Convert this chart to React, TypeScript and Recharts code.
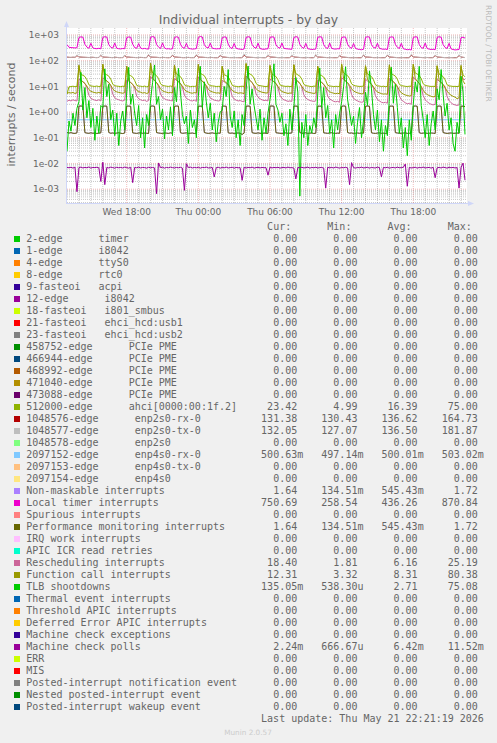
import React from 'react';
import { LineChart, Line, XAxis, YAxis, CartesianGrid } from 'recharts';

// time: hours since Wed 00:00, one sample every 10 minutes starting Wed 13:00
const START_HOUR = 13;
const STEP_HOURS = 1 / 6;
const X_DOMAIN = [13, 46.5];
const X_TICKS = [18, 24, 30, 36, 42];
const X_TICK_LABELS = ['Wed 18:00', 'Thu 00:00', 'Thu 06:00', 'Thu 12:00', 'Thu 18:00'];
const Y_DOMAIN = [2.9e-4, 1860];
const Y_TICKS = [1e-3, 1e-2, 1e-1, 1, 10, 100, 1000];

const LOCAL_TIMER = [
  420, 330, 322, 318, 312, 316,
  792, 842, 818, 430, 338, 302, 472, 312, 296, 291, 302, 288,
  801, 851, 829, 420, 331, 306, 481, 301, 291, 286, 296, 291,
  781, 832, 815, 440, 322, 301, 462, 306, 289, 299, 286, 281,
  811, 862, 826, 425, 336, 296, 489, 309, 286, 291, 281, 289,
  791, 846, 811, 435, 326, 301, 471, 299, 291, 281, 286, 294,
  799, 870, 831, 418, 329, 311, 479, 304, 294, 286, 291, 289,
  779, 836, 821, 440, 321, 296, 466, 301, 286, 281, 271, 284,
  796, 851, 816, 425, 331, 301, 476, 296, 281, 276, 286, 289,
  801, 841, 826, 415, 326, 306, 481, 301, 291, 286, 281, 276,
  791, 856, 821, 430, 331, 301, 471, 291, 281, 271, 276, 281,
  806, 846, 831, 420, 321, 296, 486, 301, 286, 281, 291, 286,
  786, 836, 816, 435, 331, 301, 466, 296, 281, 271, 266, 276,
  801, 851, 826, 420, 326, 306, 476, 301, 286, 276, 281, 271,
  791, 841, 821, 430, 331, 296, 471, 291, 276, 266, 271, 259,
  796, 846, 831, 425, 321, 301, 481, 296, 281, 271, 276, 266,
  801, 849, 816, 420, 326, 296, 471, 286, 271, 261, 266, 271,
  781, 821, 750.69,
];

const ENP2S0_TX = [
  138, 135, 134, 136, 135, 168,
  141, 138, 136, 135, 134, 133, 134, 135, 133, 132, 134, 171,
  140, 137, 136, 134, 133, 132, 135, 134, 132, 131, 133, 166,
  139, 138, 135, 134, 133, 132, 133, 134, 133, 131, 132, 174,
  140, 137, 136, 135, 133, 132, 134, 133, 132, 130, 133, 169,
  141, 138, 135, 134, 132, 131, 133, 134, 132, 131, 132, 172,
  139, 137, 136, 134, 133, 132, 134, 133, 131, 130, 132, 167,
  140, 138, 135, 133, 132, 131, 133, 132, 131, 129, 131, 181.87,
  139, 137, 135, 134, 133, 131, 132, 133, 131, 130, 132, 170,
  140, 138, 136, 134, 132, 131, 133, 132, 130, 129, 131, 168,
  141, 137, 135, 133, 132, 130, 132, 133, 131, 128, 130, 173,
  139, 138, 136, 134, 133, 131, 133, 132, 130, 129, 131, 166,
  140, 137, 135, 133, 132, 130, 132, 131, 130, 127.07, 130, 171,
  139, 138, 136, 134, 132, 131, 133, 132, 130, 128, 131, 169,
  140, 137, 135, 133, 132, 130, 132, 131, 129, 128, 130, 175,
  141, 138, 136, 134, 133, 131, 132, 133, 130, 129, 131, 167,
  139, 137, 135, 133, 132, 130, 131, 132, 130, 128, 130, 170,
  138, 135, 132.05,
];

const ENP2S0_RX = [
  137, 134, 133, 135, 134, 158,
  140, 137, 135, 134, 133, 132, 133, 134, 132, 131, 133, 161,
  139, 136, 135, 133, 132, 131, 134, 133, 131, 131, 132, 157,
  138, 137, 134, 133, 132, 131, 132, 133, 132, 131, 131, 164.73,
  139, 136, 135, 134, 132, 131, 133, 132, 131, 130.43, 132, 159,
  140, 137, 134, 133, 131, 131, 132, 133, 131, 131, 131, 162,
  138, 136, 135, 133, 132, 131, 133, 132, 131, 130.5, 131, 158,
  139, 137, 134, 132, 131, 131, 132, 131, 131, 130.6, 131, 163,
  138, 136, 134, 133, 132, 131, 131, 132, 131, 130.5, 131, 160,
  139, 137, 135, 133, 131, 131, 132, 131, 130.8, 131, 131, 158,
  140, 136, 134, 132, 131, 130.7, 131, 132, 131, 130.6, 130.9, 163,
  138, 137, 135, 133, 132, 131, 132, 131, 130.8, 131, 131, 157,
  139, 136, 134, 132, 131, 130.6, 131, 131, 130.7, 130.5, 130.8, 161,
  138, 137, 135, 133, 131, 131, 132, 131, 130.6, 131, 131, 159,
  139, 136, 134, 132, 131, 130.5, 131, 131, 130.7, 130.6, 130.9, 164,
  140, 137, 135, 133, 132, 131, 131, 132, 131, 131, 131, 158,
  138, 136, 134, 132, 131, 130.6, 131, 131, 130.5, 131, 130.8, 160,
  137, 134, 131.38,
];

const AHCI = [
  4.99, 9.6, 9.8, 10.1, 9.7, 9.9,
  61, 29, 27, 24, 18, 11.5, 10.4, 10.1, 9.9, 10.3, 9.8, 10.1,
  66, 31, 28, 25, 19, 12, 10.6, 10.2, 10.0, 9.7, 10.1, 9.9,
  58, 28, 26, 23, 17, 11, 10.3, 10.1, 9.8, 10.2, 9.6, 10.0,
  72, 33, 30, 26, 20, 12.5, 10.8, 10.5, 10.1, 9.9, 10.3, 9.8,
  63, 30, 27, 24, 18, 11.5, 10.5, 10.3, 9.7, 10.0, 9.9, 10.2,
  69, 32, 29, 26, 19, 12, 10.7, 10.4, 10.2, 9.8, 10.0, 9.7,
  60, 28, 26, 23, 17, 11, 10.2, 10.0, 9.6, 9.9, 10.1, 9.8,
  75, 34, 30, 27, 21, 13, 11.0, 10.6, 10.3, 10.0, 9.7, 10.1,
  64, 30, 27, 24, 18, 11.5, 10.5, 10.2, 9.9, 10.1, 9.8, 9.9,
  67, 31, 28, 25, 19, 12, 10.6, 10.4, 10.0, 9.7, 10.2, 10.0,
  59, 28, 26, 23, 17, 11, 10.3, 10.1, 9.8, 10.0, 9.9, 9.7,
  70, 33, 29, 26, 20, 12.5, 10.9, 10.5, 10.1, 9.9, 10.0, 10.2,
  62, 30, 27, 24, 18, 11.5, 10.4, 10.3, 9.8, 10.1, 9.7, 9.9,
  65, 31, 28, 25, 19, 12, 10.6, 10.4, 10.0, 9.8, 10.1, 10.0,
  71, 33, 30, 26, 20, 12.5, 10.8, 10.5, 10.1, 9.9, 10.0, 9.8,
  63, 30, 27, 24, 18, 11.5, 10.4, 10.2, 9.9, 10.0, 9.8, 10.1,
  58, 28, 23.42,
];

const FUNCTION_CALL = [
  5.4, 5.7, 5.5, 5.8, 5.3, 5.6,
  68, 18, 15, 13, 10, 7.5, 6.4, 6.0, 5.7, 5.5, 5.8, 5.4,
  74, 20, 16, 14, 11, 8, 6.6, 6.1, 5.8, 5.6, 5.4, 5.7,
  62, 17, 14, 12, 9.5, 7, 6.2, 5.9, 5.5, 5.7, 5.3, 5.6,
  80.38, 21, 17, 14, 11, 8, 6.7, 6.2, 5.9, 5.6, 5.8, 5.5,
  66, 18, 15, 13, 10, 7.5, 6.4, 6.0, 5.6, 5.4, 5.7, 5.5,
  72, 19, 16, 13, 10.5, 7.8, 6.5, 6.1, 5.8, 5.5, 5.6, 5.3,
  60, 16, 14, 12, 9, 7, 6.1, 5.8, 5.4, 5.6, 5.5, 5.2,
  78, 22, 17, 14, 11, 8.2, 6.8, 6.3, 5.9, 5.7, 5.5, 5.6,
  65, 18, 15, 13, 10, 7.4, 6.3, 5.9, 5.6, 5.3, 5.5, 5.4,
  70, 19, 16, 13, 10, 7.6, 6.4, 6.0, 5.7, 5.5, 5.3, 5.5,
  61, 17, 14, 12, 9.5, 7.1, 6.1, 5.7, 5.4, 5.2, 5.4, 5.1,
  75, 20, 16, 14, 11, 8, 6.6, 6.0, 5.6, 5.3, 5.1, 5.2,
  64, 18, 15, 12, 9.5, 7.2, 6.0, 5.6, 5.2, 5.0, 5.1, 4.9,
  69, 19, 15, 13, 10, 7, 5.6, 5.0, 4.6, 4.4, 4.2, 4.3,
  73, 20, 16, 13, 10, 7, 5.5, 4.8, 4.4, 4.1, 3.9, 4.0,
  63, 17, 14, 12, 9, 6.5, 5.2, 4.5, 4.1, 3.8, 3.32, 3.6,
  66, 16, 12.31,
];

const RESCHEDULING = [
  2.6, 2.9, 2.7, 3.0, 2.8, 2.7,
  19, 17, 15, 13, 9, 4.5, 3.4, 3.1, 2.9, 2.8, 3.0, 2.7,
  22, 18, 16, 14, 10, 5, 3.6, 3.2, 3.0, 2.8, 2.7, 2.9,
  18, 16, 14, 12, 8.5, 4.2, 3.3, 3.0, 2.8, 2.9, 2.6, 2.8,
  24, 19, 17, 14, 10, 5, 3.7, 3.3, 3.0, 2.9, 2.8, 2.7,
  20, 17, 15, 13, 9, 4.6, 3.4, 3.1, 2.8, 2.7, 2.9, 2.6,
  23, 18, 16, 14, 10, 4.9, 3.5, 3.2, 2.9, 2.8, 2.7, 2.8,
  17, 15, 13, 11, 8, 4.1, 3.2, 2.9, 2.7, 2.8, 2.6, 2.5,
  25.19, 20, 17, 14, 10, 5.1, 3.8, 3.3, 3.0, 2.8, 2.9, 2.7,
  19, 17, 15, 13, 9, 4.5, 3.4, 3.0, 2.8, 2.6, 2.7, 2.6,
  21, 18, 15, 13, 9.5, 4.7, 3.5, 3.1, 2.8, 2.7, 2.6, 2.7,
  18, 16, 14, 12, 8.5, 4.2, 3.2, 2.9, 2.6, 2.5, 2.6, 2.4,
  22, 18, 16, 13, 9.5, 4.8, 3.4, 3.0, 2.7, 2.5, 2.4, 2.5,
  19, 16, 14, 12, 8.5, 4.3, 3.1, 2.7, 2.4, 2.3, 2.4, 2.2,
  20, 17, 15, 12, 9, 4.2, 3.0, 2.6, 2.3, 2.1, 2.2, 2.0,
  23, 18, 16, 13, 9, 4.3, 3.0, 2.5, 2.2, 2.0, 1.9, 2.0,
  19, 16, 14, 12, 8.5, 4.0, 2.8, 2.3, 2.0, 1.9, 1.81, 1.9,
  22, 19, 18.40,
];

const TLB_SHOOTDOWNS = [
  0.03, 0.45, 0.18, 0.9, 0.3, 1.4,
  2.5, 35, 1.2, 9, 0.6, 2.8, 0.25, 1.4, 0.08, 0.7, 0.15, 1.8,
  1.5, 48, 4, 12, 0.5, 1.2, 0.12, 0.9, 0.05, 0.45, 1.1, 0.2,
  6, 55, 2, 5, 0.9, 0.3, 1.8, 0.1, 0.6, 0.04, 0.8, 0.3,
  3, 14, 68, 2, 4, 0.5, 1.3, 0.09, 0.7, 0.2, 1.6, 0.12,
  9, 2.5, 50, 6, 0.8, 0.35, 0.7, 0.06, 1.2, 0.25, 0.5, 0.1,
  4, 60, 1.5, 15, 2.5, 0.6, 2.2, 0.2, 0.9, 0.07, 0.4, 1.0,
  1.2, 10, 4, 45, 0.7, 0.25, 1.1, 0.1, 0.5, 0.05, 0.8, 0.3,
  7, 62, 2, 8, 1.8, 0.6, 0.2, 1.3, 0.08, 0.6, 0.15, 0.9,
  3, 12, 75.08, 2, 1.2, 0.4, 0.9, 0.12, 0.35, 0.05, 1.3, 0.2,
  1.5, 22, 6, 0.000538, 0.4, 0.1, 0.8, 0.05, 0.3, 0.15, 0.6, 0.25,
  5, 52, 1.5, 9, 0.6, 1.8, 0.15, 0.5, 0.04, 0.8, 0.2, 0.9,
  2.5, 10, 58, 3, 1.0, 0.3, 0.7, 0.06, 0.4, 1.5, 0.1, 0.5,
  6, 1.8, 40, 8, 0.8, 0.2, 1.2, 0.07, 0.5, 0.03, 0.3, 0.12,
  4, 55, 2.2, 12, 1.5, 0.15, 0.6, 0.04, 0.25, 0.02, 0.5, 0.08,
  2, 15, 6, 60, 1.8, 0.5, 0.1, 0.8, 0.05, 0.35, 1.1, 0.2,
  8, 3, 45, 5, 0.7, 2.2, 0.2, 0.6, 0.06, 0.03, 0.4, 0.15,
  25, 6, 0.135,
];

const PERF_MONITORING = [
  0.16, 0.152, 0.158, 0.15, 0.148, 0.155,
  1.70, 1.72, 1.68, 0.158, 0.152, 0.149, 0.156, 0.15, 0.153, 0.147, 0.151, 0.155,
  1.69, 1.71, 1.70, 0.16, 0.15, 0.154, 0.148, 0.152, 0.157, 0.15, 0.146, 0.153,
  1.71, 1.70, 1.69, 0.155, 0.151, 0.148, 0.153, 0.156, 0.149, 0.152, 0.15, 0.147,
  1.70, 1.72, 1.67, 0.159, 0.153, 0.15, 0.147, 0.154, 0.151, 0.148, 0.155, 0.15,
  1.68, 1.71, 1.70, 0.157, 0.149, 0.152, 0.155, 0.148, 0.15, 0.153, 0.147, 0.152,
  1.70, 1.69, 1.71, 0.16, 0.152, 0.148, 0.151, 0.155, 0.149, 0.146, 0.152, 0.15,
  1.72, 1.70, 1.68, 0.156, 0.15, 0.153, 0.147, 0.151, 0.154, 0.149, 0.1345, 0.152,
  1.69, 1.71, 1.70, 0.158, 0.151, 0.149, 0.155, 0.15, 0.147, 0.153, 0.15, 0.148,
  1.70, 1.72, 1.69, 0.157, 0.153, 0.15, 0.148, 0.152, 0.155, 0.149, 0.151, 0.154,
  1.71, 1.70, 1.68, 0.159, 0.15, 0.152, 0.156, 0.148, 0.151, 0.154, 0.147, 0.15,
  1.70, 1.69, 1.71, 0.155, 0.152, 0.149, 0.153, 0.157, 0.15, 0.148, 0.152, 0.149,
  1.68, 1.72, 1.70, 0.16, 0.151, 0.154, 0.147, 0.15, 0.153, 0.149, 0.155, 0.151,
  1.70, 1.71, 1.69, 0.156, 0.15, 0.148, 0.152, 0.155, 0.149, 0.151, 0.147, 0.153,
  1.71, 1.70, 1.70, 0.158, 0.153, 0.15, 0.149, 0.152, 0.156, 0.148, 0.15, 0.152,
  1.69, 1.72, 1.68, 0.157, 0.149, 0.152, 0.155, 0.148, 0.15, 0.153, 0.151, 0.147,
  1.70, 1.71, 1.69, 0.159, 0.152, 0.148, 0.151, 0.154, 0.149, 0.15, 0.153, 0.15,
  1.70, 1.69, 1.64,
];

// identical readings to the performance monitoring counter (see legend)
const NON_MASKABLE = PERF_MONITORING;

const MC_POLLS = [
  0.0070, 0.0068, 0.0071, 0.0066, 0.0072, 0.0008,
  0.0069, 0.0072, 0.0067, 0.0070, 0.0068, 0.0073, 0.0066, 0.0070, 0.0069, 0.0071, 0.0068, 0.0020,
  0.0112, 0.0015, 0.0070, 0.0067, 0.0072, 0.0069, 0.0066, 0.0071, 0.0068, 0.0070, 0.0067, 0.0072,
  0.0069, 0.0066, 0.0071, 0.0018, 0.0070, 0.0068, 0.0072, 0.0067, 0.0070, 0.0069, 0.0066, 0.0071,
  0.0068, 0.0070, 0.0067, 0.00067, 0.0105, 0.0069, 0.0071, 0.0066, 0.0070, 0.0068, 0.0072, 0.0069,
  0.0067, 0.0070, 0.0068, 0.0071, 0.0066, 0.0009, 0.0098, 0.0069, 0.0072, 0.0067, 0.0070, 0.0068,
  0.0071, 0.0066, 0.0070, 0.0069, 0.0072, 0.0067, 0.0068, 0.0070, 0.0030, 0.0069, 0.0071, 0.0066,
  0.0070, 0.0068, 0.0072, 0.0067, 0.0069, 0.0071, 0.0066, 0.0070, 0.0068, 0.0069, 0.0022, 0.0071,
  0.0067, 0.0070, 0.0068, 0.0072, 0.0066, 0.0069, 0.0071, 0.0067, 0.0070, 0.0068, 0.0069, 0.0035,
  0.0072, 0.0067, 0.0070, 0.0068, 0.0071, 0.0066, 0.0069, 0.0070, 0.0067, 0.0072, 0.0068, 0.0069,
  0.0066, 0.0025, 0.0070, 0.0068, 0.0071, 0.0067, 0.0069, 0.0072, 0.0066, 0.0070, 0.0068, 0.0071,
  0.0067, 0.0069, 0.0070, 0.0066, 0.0011, 0.0071, 0.0068, 0.0070, 0.0067, 0.0072, 0.0069, 0.0066,
  0.0070, 0.0068, 0.0071, 0.0067, 0.0015, 0.0108, 0.0069, 0.0066, 0.0070, 0.0068, 0.0072, 0.0067,
  0.0069, 0.0071, 0.0066, 0.0070, 0.0068, 0.0067, 0.0072, 0.0069, 0.0030, 0.0070, 0.0068, 0.0071,
  0.0066, 0.0069, 0.0070, 0.0067, 0.0072, 0.0068, 0.0069, 0.0071, 0.0095, 0.0013, 0.0070, 0.0067,
  0.0069, 0.0071, 0.0066, 0.0070, 0.0068, 0.0072, 0.0067, 0.0069, 0.0070, 0.0066, 0.0071, 0.0028,
  0.0068, 0.0070, 0.0067, 0.0072, 0.0069, 0.0066, 0.0071, 0.0068, 0.0070, 0.0067, 0.0069, 0.0011,
  0.0070, 0.0103, 0.00224,
];

// hourly readings, Wed 13:00 .. Thu 22:00, then Thu 22:20
const ENP4S0_RX_HOURS = [
  13, 14, 15, 16, 17, 18, 19, 20, 21, 22, 23, 24, 25, 26, 27, 28, 29,
  30, 31, 32, 33, 34, 35, 36, 37, 38, 39, 40, 41, 42, 43, 44, 45, 46, 46.333,
];
const ENP4S0_RX = [
  0.500, 0.501, 0.499, 0.500, 0.502, 0.499, 0.500, 0.501, 0.498, 0.500, 0.501, 0.500,
  0.499, 0.502, 0.500, 0.501, 0.499, 0.500, 0.503, 0.500, 0.499, 0.501, 0.500, 0.497,
  0.500, 0.501, 0.499, 0.500, 0.502, 0.500, 0.499, 0.501, 0.500, 0.500, 0.5006,
];

const LEGEND_LABELS = [
  '2-edge      timer', '1-edge      i8042', '4-edge      ttyS0', '8-edge      rtc0',
  '9-fasteoi   acpi', '12-edge      i8042', '18-fasteoi   i801_smbus',
  '21-fasteoi   ehci_hcd:usb1', '23-fasteoi   ehci_hcd:usb2',
  '458752-edge      PCIe PME', '466944-edge      PCIe PME', '468992-edge      PCIe PME',
  '471040-edge      PCIe PME', '473088-edge      PCIe PME', '512000-edge      ahci[0000:00:1f.2]',
  '1048576-edge      enp2s0-rx-0', '1048577-edge      enp2s0-tx-0', '1048578-edge      enp2s0',
  '2097152-edge      enp4s0-rx-0', '2097153-edge      enp4s0-tx-0', '2097154-edge      enp4s0',
  'Non-maskable interrupts', 'Local timer interrupts', 'Spurious interrupts',
  'Performance monitoring interrupts', 'IRQ work interrupts', 'APIC ICR read retries',
  'Rescheduling interrupts', 'Function call interrupts', 'TLB shootdowns',
  'Thermal event interrupts', 'Threshold APIC interrupts', 'Deferred Error APIC interrupts',
  'Machine check exceptions', 'Machine check polls', 'ERR', 'MIS',
  'Posted-interrupt notification event', 'Nested posted-interrupt event', 'Posted-interrupt wakeup event',
];
const LEGEND_COLORS = [
  '#00CC00', '#0066B3', '#FF8000', '#FFCC00', '#330099', '#990099', '#CCFF00', '#FF0000', '#808080',
  '#008F00', '#00487D', '#B35A00', '#B38F00', '#6B006B', '#8FB300', '#B30000', '#BEBEBE', '#80FF80',
  '#80C9FF', '#FFC080', '#FFE680', '#AA80FF', '#EE00CC', '#FF8080', '#666600', '#FFBFFF', '#00FFCC',
  '#CC6699', '#999900', '#00CC00', '#0066B3', '#FF8000', '#FFCC00', '#330099', '#990099', '#CCFF00',
  '#FF0000', '#808080', '#008F00', '#00487D',
];
const Z = '0.00';
const CUR = [Z, Z, Z, Z, Z, Z, Z, Z, Z, Z, Z, Z, Z, Z, '23.42', '131.38', '132.05', Z, '500.63m', Z, Z,
  '1.64', '750.69', Z, '1.64', Z, Z, '18.40', '12.31', '135.05m', Z, Z, Z, Z, '2.24m', Z, Z, Z, Z, Z];
const MIN = [Z, Z, Z, Z, Z, Z, Z, Z, Z, Z, Z, Z, Z, Z, '4.99', '130.43', '127.07', Z, '497.14m', Z, Z,
  '134.51m', '258.54', Z, '134.51m', Z, Z, '1.81', '3.32', '538.30u', Z, Z, Z, Z, '666.67u', Z, Z, Z, Z, Z];
const AVG = [Z, Z, Z, Z, Z, Z, Z, Z, Z, Z, Z, Z, Z, Z, '16.39', '136.62', '136.50', Z, '500.01m', Z, Z,
  '545.43m', '436.26', Z, '545.43m', Z, Z, '6.16', '8.31', '2.71', Z, Z, Z, Z, '6.42m', Z, Z, Z, Z, Z];
const MAX = [Z, Z, Z, Z, Z, Z, Z, Z, Z, Z, Z, Z, Z, Z, '75.00', '164.73', '181.87', Z, '503.02m', Z, Z,
  '1.72', '870.84', Z, '1.72', Z, Z, '25.19', '80.38', '75.08', Z, Z, Z, Z, '11.52m', Z, Z, Z, Z, Z];
const HEADERS = ['Cur:', 'Min:', 'Avg:', 'Max:'];
const LAST_UPDATE = 'Last update: Thu May 21 22:21:19 2026';

const rows = LOCAL_TIMER.map((_, i) => ({
  t: START_HOUR + i * STEP_HOURS,
  ahci: AHCI[i],
  rx2: ENP2S0_RX[i],
  tx2: ENP2S0_TX[i],
  nmi: NON_MASKABLE[i],
  lt: LOCAL_TIMER[i],
  pm: PERF_MONITORING[i],
  rs: RESCHEDULING[i],
  fc: FUNCTION_CALL[i],
  tlb: TLB_SHOOTDOWNS[i],
  mcp: MC_POLLS[i],
}));
const enp4Rows = ENP4S0_RX_HOURS.map((t, i) => ({ t, v: ENP4S0_RX[i] }));

const minorY: number[] = [];
for (let e = -4; e <= 3; e++) {
  for (let k = 2; k <= 9; k++) {
    const v = k * Math.pow(10, e);
    if (v > Y_DOMAIN[0] && v < Y_DOMAIN[1]) minorY.push(v);
  }
}
const minorX: number[] = [];
for (let h = 14; h <= 46; h++) if (!X_TICKS.includes(h)) minorX.push(h);

const fmtY = (v: number) => {
  const e = Math.round(Math.log10(v));
  return `1e${e < 0 ? '-' : '+'}${String(Math.abs(e)).padStart(2, '0')}`;
};
const fmtX = (v: number) => X_TICK_LABELS[X_TICKS.indexOf(v)] ?? '';

const mono = '"DejaVu Sans Mono", monospace';
const sans = '"DejaVu Sans", sans-serif';
const FONT_COLOR = '#666666';
const AXIS_COLOR = '#CFD6F8';

function legendLine(label: string, vals: string[]) {
  let s = label;
  vals.forEach((v, c) => {
    const hasUnit = /[mu]$/.test(v);
    const num = hasUnit ? v.slice(0, -1) : v;
    const unit = hasUnit ? v.slice(-1) : '';
    const end = 45 + 10 * c;
    s = s.padEnd(end - num.length) + num + unit;
  });
  return s;
}
function headerLine() {
  let s = '';
  HEADERS.forEach((h, c) => { s = s.padEnd(40 + 10 * c) + h; });
  return s;
}

const TEXT_X = 26.3;
const ROW0 = 239.3;
const ROW_H = 12;

export default function App() {
  const lineProps = { type: 'linear' as const, dot: false, isAnimationActive: false, strokeWidth: 1, connectNulls: true };
  return (
    <div style={{ position: 'absolute', left: 0, top: 0, width: 497, height: 743, background: '#F0F0F0', overflow: 'hidden' }}>
      <div style={{ position: 'absolute', left: 0, top: 0 }}>
        <LineChart width={497} height={230} data={rows} margin={{ top: 28, right: 30, bottom: 0, left: 0 }}>
          <CartesianGrid fill="#FFFFFF" stroke="rgba(143,143,143,0.5)" strokeDasharray="1 1"
            horizontalValues={minorY} verticalValues={minorX} />
          <CartesianGrid fill="none" stroke="rgba(222,79,79,0.38)" strokeDasharray="1 1"
            horizontalValues={Y_TICKS} verticalValues={X_TICKS} />
          <XAxis dataKey="t" type="number" domain={X_DOMAIN} ticks={X_TICKS} tickFormatter={fmtX}
            allowDataOverflow interval={0} height={27} axisLine={false} tickLine={false} tickSize={4} tickMargin={2}
            tick={{ fontSize: 9, fill: FONT_COLOR, fontFamily: sans }} />
          <YAxis type="number" scale="log" domain={Y_DOMAIN} ticks={Y_TICKS} tickFormatter={fmtY}
            allowDataOverflow interval={0} width={67} axisLine={false} tickLine={false} tickSize={6} tickMargin={2}
            tick={{ fontSize: 9, fill: FONT_COLOR, fontFamily: sans }} />
          <Line {...lineProps} dataKey="ahci" stroke="#8FB300" />
          <Line {...lineProps} dataKey="rx2" stroke="#B30000" />
          <Line {...lineProps} dataKey="tx2" stroke="#BEBEBE" />
          <Line {...lineProps} data={enp4Rows} dataKey="v" stroke="#80C9FF" />
          <Line {...lineProps} dataKey="nmi" stroke="#AA80FF" />
          <Line {...lineProps} dataKey="lt" stroke="#EE00CC" />
          <Line {...lineProps} dataKey="pm" stroke="#666600" />
          <Line {...lineProps} dataKey="rs" stroke="#CC6699" />
          <Line {...lineProps} dataKey="fc" stroke="#999900" />
          <Line {...lineProps} dataKey="tlb" stroke="#00CC00" />
          <Line {...lineProps} dataKey="mcp" stroke="#990099" />
        </LineChart>
      </div>
      <svg width={497} height={743} style={{ position: 'absolute', left: 0, top: 0, pointerEvents: 'none' }}>
        <text x={248.5} y={23.5} textAnchor="middle" fontFamily={sans} fontSize={12.4} fill={FONT_COLOR}>
          Individual interrupts - by day
        </text>
        <text transform="translate(14.8,114.5) rotate(-90)" textAnchor="middle" fontFamily={sans} fontSize={11} fill={FONT_COLOR}>
          interrupts / second
        </text>
        <text transform="translate(485.6,5) rotate(90)" fontFamily={sans} fontSize={7.5} fill="#BBBBBB">
          RRDTOOL / TOBI OETIKER
        </text>
        <line x1={66.5} y1={26} x2={66.5} y2={204} stroke={AXIS_COLOR} strokeWidth={1} />
        <polygon points="64,27 66.5,21 69,27" fill={AXIS_COLOR} />
        <line x1={66} y1={203.5} x2={469} y2={203.5} stroke={AXIS_COLOR} strokeWidth={1} />
        <polygon points="468,201 474,203.5 468,206" fill={AXIS_COLOR} />
        <text x={248} y={734.5} textAnchor="middle" fontFamily={sans} fontSize={7.3} fill="#CCCCCC">
          Munin 2.0.57
        </text>
      </svg>
      <div style={{ position: 'absolute', left: TEXT_X, top: ROW0 - 12 - 5.9, fontFamily: mono, fontSize: 10, lineHeight: '12px', whiteSpace: 'pre', color: FONT_COLOR }}>
        {headerLine()}
      </div>
      {LEGEND_LABELS.map((label, k) => (
        <React.Fragment key={label + k}>
          <div style={{ position: 'absolute', left: 14, top: ROW0 - 3 + ROW_H * k, width: 6, height: 6, background: LEGEND_COLORS[k] }} />
          <div style={{ position: 'absolute', left: TEXT_X, top: ROW0 - 5.9 + ROW_H * k, fontFamily: mono, fontSize: 10, lineHeight: '12px', whiteSpace: 'pre', color: FONT_COLOR }}>
            {legendLine(label, [CUR[k], MIN[k], AVG[k], MAX[k]])}
          </div>
        </React.Fragment>
      ))}
      <div style={{ position: 'absolute', left: TEXT_X + 39 * 6.02, top: ROW0 - 5.9 + ROW_H * 40, fontFamily: mono, fontSize: 10, lineHeight: '12px', whiteSpace: 'pre', color: FONT_COLOR }}>
        {LAST_UPDATE}
      </div>
    </div>
  );
}
